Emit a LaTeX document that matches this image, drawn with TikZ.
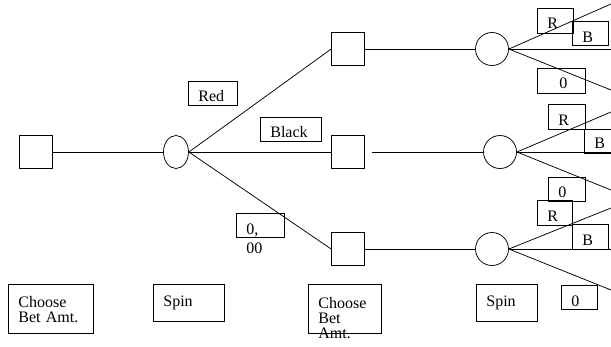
\documentclass[tikz,border=0pt]{standalone}
\usepackage{fontspec}
\setmainfont{Liberation Serif}
\usetikzlibrary{shapes.geometric}

\begin{document}
\begin{tikzpicture}[x=1pt, y=-1pt, line width=0.75pt,
  decision/.style={draw, rectangle, minimum size=33pt, inner sep=0pt},
  chance/.style={draw, circle, minimum size=33pt, inner sep=0pt},
  wheel/.style={draw, ellipse, minimum width=25pt, minimum height=33pt, inner sep=0pt},
  tbox/.style={draw, anchor=north west, align=left, inner xsep=10pt, inner ysep=0pt,
    text height=20pt, text depth=4pt, font=\fontsize{16}{15}\selectfont}]
\clip (0,0) rectangle (611,346);

% First bet and first spin
\node[decision] (bet1) at (36,152) {};
\node[wheel] (spin1) at (176,152) {};

% Second bet after each outcome
\node[decision] (bet2r) at (348,49) {};
\node[decision] (bet2b) at (348,152) {};
\node[decision] (bet2z) at (348,249) {};

% Second spin
\node[chance] (spin2r) at (492,49) {};
\node[chance] (spin2b) at (500,152) {};
\node[chance] (spin2z) at (492,249) {};

% Loose ends at the right border
\coordinate (rr1) at (611,4);
\coordinate (rr2) at (611,49);
\coordinate (rr3) at (611,90);
\coordinate (br1) at (611,112);
\coordinate (br2) at (611,152);
\coordinate (br3) at (611,190);
\coordinate (zr1) at (611,208);
\coordinate (zr2) at (611,249);
\coordinate (zr3) at (611,290);

% Main edges
\draw (bet1.east) -- (spin1.west);
\draw (spin1.east) -- (bet2r.west);
\draw (spin1.east) -- (bet2b.west);
\draw (spin1.east) -- (bet2z.west);
\draw (bet2r.east) -- (spin2r.west);
\draw[shorten <=7pt] (bet2b.east) -- (spin2b.west);
\draw (bet2z.east) -- (spin2z.west);

% Fans of the second spin
\draw (spin2r.east) -- (rr1);
\draw (spin2r.east) -- (rr2);
\draw (spin2r.east) -- (rr3);
\draw (spin2b.east) -- (br1);
\draw (spin2b.east) -- (br2);
\draw (spin2b.east) -- (br3);
\draw (spin2z.east) -- (zr1);
\draw (spin2z.east) -- (zr2);
\draw (spin2z.east) -- (zr3);

% Outcome labels of the first spin
\node[tbox, text width=29pt] (lred) at (188,81) {Red};
\node[tbox, text width=41pt] (lblack) at (260,117) {Black};
\node[tbox, text width=28pt, text height=21pt, text depth=3pt] (lzero) at (236,213) {0,\\[4pt]00};

% Outcome labels of the second spin
\node[tbox, text width=16pt, text depth=5pt] (lrr) at (537,8) {R};
\node[tbox, text width=16pt, text height=21pt, text depth=3pt] (lrb) at (572,21) {B};
\node[tbox, text width=28pt, text depth=5pt] (lrz) at (537,68) {\hspace*{12pt}0};
\node[tbox, text width=17pt, text height=21pt, text depth=4pt] (lbr) at (548,104) {R};
\node[tbox, text width=16pt, text height=19pt, text depth=5pt] (lbb) at (584,129) {B};
\node[tbox, text width=17pt] (lbz) at (548,177) {0};
\node[tbox, text width=15pt, text height=21pt, text depth=4pt] (lzr) at (537,200) {R};
\node[tbox, text width=16pt, text height=21pt, text depth=4pt] (lzb) at (572,224) {B};
\node[tbox, text width=16pt, text height=21pt, text depth=3pt] (lzz) at (561,285) {0};

% Stage captions
\node[tbox, text width=65pt, text height=23pt, text depth=26pt] (cbet1) at (8,284) {Choose\\Bet Amt.};
\node[tbox, text width=51pt, text height=22pt, text depth=15pt] (cspin1) at (153,284) {Spin};
\node[tbox, text width=53pt, text height=24pt, text depth=25pt] (cbet2) at (308,284) {Choose\\Bet\\Amt.};
\node[tbox, text width=41pt, text height=22pt, text depth=15pt] (cspin2) at (476,284) {Spin};
\end{tikzpicture}
\end{document}
